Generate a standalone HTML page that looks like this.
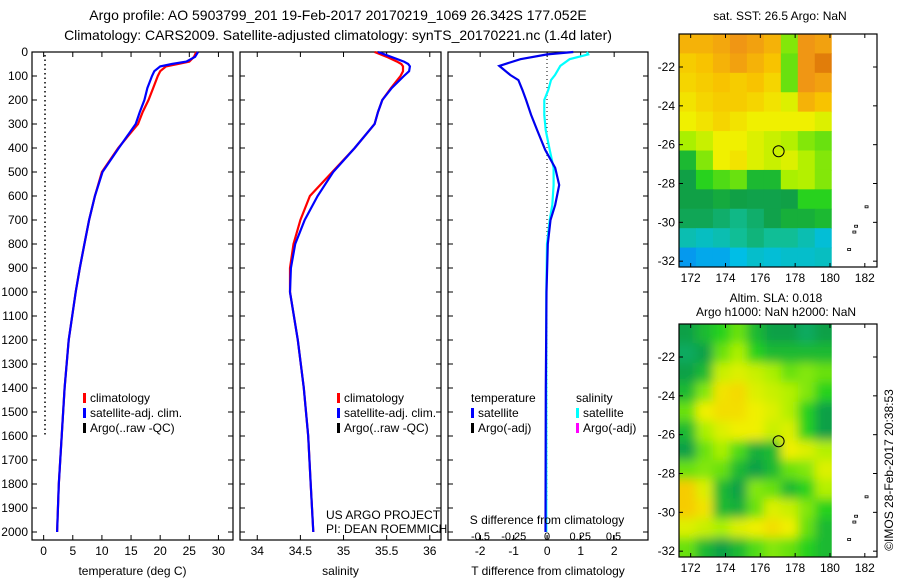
<!DOCTYPE html>
<html><head><meta charset="utf-8">
<style>
html,body{margin:0;padding:0;background:#fff;}
svg{display:block;font-family:"Liberation Sans",sans-serif;}
text{fill:#000;}
</style></head>
<body>
<svg id="fig" width="900" height="580" viewBox="0 0 900 580" xmlns="http://www.w3.org/2000/svg">
<text x="338" y="20" font-size="14" text-anchor="middle">Argo profile: AO 5903799_201 19-Feb-2017 20170219_1069 26.342S 177.052E</text>
<text x="338" y="40" font-size="14" text-anchor="middle">Climatology: CARS2009. Satellite-adjusted climatology: synTS_20170221.nc (1.4d later)</text>
<g id="g1"></g>
<g id="g2"></g>
<g id="g3"></g>
<g id="m1"></g>
<g id="m2"></g>
<text x="326" y="519" font-size="12">US ARGO PROJECT</text>
<text x="326" y="533" font-size="12">PI: DEAN ROEMMICH</text>
<text x="780" y="20" font-size="12" text-anchor="middle">sat. SST: 26.5 Argo: NaN</text>
<text x="776" y="302" font-size="12" text-anchor="middle">Altim. SLA: 0.018</text>
<text x="776" y="316" font-size="12" text-anchor="middle">Argo h1000: NaN h2000: NaN</text>
<text transform="translate(893,470) rotate(-90)" font-size="12" text-anchor="middle">©IMOS 28-Feb-2017 20:38:53</text>
</svg>
<script>
// ---- profile data ----
const depths = [0,20,40,50,60,80,100,150,200,250,300,400,500,600,700,800,900,1000,1200,1400,1600,1800,2000];
const tempClim = [26.2,25.8,25,23,21,20,19.6,18.8,18,17,16.2,12.8,10,8.8,7.8,7,6.2,5.5,4.3,3.6,3.1,2.6,2.3];
const tempSat  = [26.5,26,24.5,22,20,19,18.6,17.8,17.3,16.5,15.8,12.9,10.1,8.8,7.8,7,6.2,5.5,4.3,3.6,3.1,2.6,2.3];
const salClim = [35.36,35.5,35.62,35.67,35.69,35.69,35.66,35.55,35.45,35.4,35.36,35.13,34.87,34.61,34.5,34.42,34.38,34.38,34.47,34.54,34.59,34.62,34.65];
const salSat  = [35.4,35.55,35.7,35.75,35.77,35.76,35.7,35.56,35.45,35.4,35.36,35.13,34.88,34.7,34.55,34.44,34.39,34.38,34.47,34.54,34.59,34.62,34.65];
const diffDepths = [0,10,30,58,96,117,158,200,262,325,408,483,554,637,700,800,1000,1400,2000];
const tDiff = [0.78,0.0,-0.8,-1.43,-1.1,-0.86,-0.74,-0.63,-0.48,-0.3,-0.06,0.24,0.36,0.24,0.1,0.02,-0.02,-0.04,-0.05];
const sDiff = [0.3,0.31,0.17,0.1,0.06,0.03,0.01,-0.02,-0.02,-0.01,0.02,0.05,0.05,0.04,0.02,0.0,-0.005,-0.005,-0.005];
const depthTicks = [0,100,200,300,400,500,600,700,800,900,1000,1100,1200,1300,1400,1500,1600,1700,1800,1900,2000];
const tempTicks = [0,5,10,15,20,25,30];
const salTicks = [34,34.5,35,35.5,36];
const tDiffTicks = [-2,-1,0,1,2];
const sDiffTicks = [-0.5,-0.25,0,0.25,0.5];
const sDiffTickLabels = ["-0.5","-0.25","0","0.25","0.5"];
// ---- map data (values 0..1 on colour scale), 12 rows (lat -20.3..-32.3) x 9 cols (lon 171.3..180.1) ----
const sstGrid = [
[.85,.85,.87,.9,.88,.85,.62,.9,.88],
[.8,.82,.85,.88,.85,.82,.6,.9,.95],
[.78,.8,.82,.8,.82,.78,.6,.9,.88],
[.75,.78,.8,.8,.78,.75,.7,.85,.82],
[.72,.75,.78,.75,.72,.72,.72,.72,.7],
[.65,.68,.72,.72,.7,.68,.66,.62,.6],
[.5,.62,.72,.75,.7,.68,.7,.66,.62],
[.45,.55,.58,.6,.5,.5,.65,.66,.62],
[.45,.45,.47,.45,.44,.44,.45,.55,.55],
[.42,.42,.38,.33,.38,.44,.48,.48,.5],
[.25,.22,.25,.3,.35,.3,.3,.25,.18],
[.1,.12,.12,.15,.2,.18,.2,.2,.22]];
const slaGrid = [
[.45,.5,.55,.6,.5,.45,.45,.4,.45],
[.4,.45,.6,.65,.55,.5,.5,.5,.5],
[.45,.5,.68,.7,.68,.65,.6,.62,.6],
[.5,.62,.75,.77,.7,.68,.66,.62,.55],
[.6,.72,.76,.76,.72,.7,.66,.55,.45],
[.5,.65,.7,.72,.72,.68,.7,.55,.45],
[.45,.6,.65,.58,.48,.5,.72,.7,.66],
[.6,.62,.6,.5,.45,.5,.6,.62,.7],
[.8,.7,.5,.45,.62,.6,.5,.55,.66],
[.8,.75,.5,.48,.6,.7,.68,.62,.55],
[.7,.68,.65,.7,.72,.76,.72,.6,.5],
[.6,.5,.45,.5,.58,.62,.6,.55,.5]];
const lonTicks = [172,174,176,178,180,182];
const latTicks = [-22,-24,-26,-28,-30,-32];
const argoLon = 177.05, argoLat = -26.34;

const NS="http://www.w3.org/2000/svg";
function mk(parent,tag,attrs){const e=document.createElementNS(NS,tag);for(const k in attrs)e.setAttribute(k,attrs[k]);parent.appendChild(e);return e;}
function txt(parent,x,y,s,size,anchor){const e=mk(parent,'text',{x:x,y:y,'font-size':size,'text-anchor':anchor||'middle'});e.textContent=s;return e;}

const TOP=52,BOT=540;
const yD=d=>TOP+d*0.24;

function panel(g,x0,x1,xmin,xmax,xticks,xlabels,xtitle,showDepth){
  const xs=v=>x0+(v-xmin)/(xmax-xmin)*(x1-x0);
  const fr=mk(g,'rect',{x:x0,y:TOP,width:x1-x0,height:BOT-TOP,fill:'none',stroke:'#000','stroke-width':1.2});
  
  
  depthTicks.forEach(d=>{
    mk(g,'line',{x1:x0,x2:x0+5,y1:yD(d),y2:yD(d),stroke:'#000'});
    mk(g,'line',{x1:x1-5,x2:x1,y1:yD(d),y2:yD(d),stroke:'#000'});
    if(showDepth){const t=txt(g,28,yD(d)+4,String(d),12,'end');
      
      }
  });
  xticks.forEach((v,i)=>{
    mk(g,'line',{x1:xs(v),x2:xs(v),y1:BOT,y2:BOT-5,stroke:'#000'});
    mk(g,'line',{x1:xs(v),x2:xs(v),y1:TOP,y2:TOP+5,stroke:'#000'});
    const t=txt(g,xs(v),555,xlabels[i],12);
    
    
  });
  const tt=txt(g,(x0+x1)/2,575,xtitle,12);
  
  
  return xs;
}
function line(g,xs,vals,ds,color,name){
  const pts=vals.map((v,i)=>xs(v).toFixed(1)+','+yD(ds[i]).toFixed(1)).join(' ');
  const p=mk(g,'polyline',{points:pts,fill:'none',stroke:color,'stroke-width':2.2});
  
  
}
function legend(g,x,y,items){
  items.forEach((it,i)=>{
    if(it[1]){mk(g,'rect',{x:x,y:y+i*15-5,width:3,height:10,fill:it[1]});}
    const t=txt(g,x+(it[1]?7:0),y+i*15+4,it[0],12,'start');
    
    
  });
}

// Panel 1
const g1=document.getElementById('g1');
const xT=panel(g1,32,233,-2,32.5,tempTicks,tempTicks.map(String),'temperature (deg C)',true);
mk(g1,'line',{x1:45,x2:45,y1:TOP+3,y2:yD(1600),stroke:'#000','stroke-dasharray':'1.5,3','stroke-width':1.5});
line(g1,xT,tempClim,depths,'#f00','temp-climatology-line');
line(g1,xT,tempSat,depths,'#00f','temp-satellite-line');
legend(g1,83,398,[['climatology','#f00'],['satellite-adj. clim.','#00f'],['Argo(..raw -QC)','#000']]);

// Panel 2
const g2=document.getElementById('g2');
const xS=panel(g2,240,441,33.8,36.13,salTicks,salTicks.map(String),'salinity',false);
line(g2,xS,salClim,depths,'#f00','sal-climatology-line');
line(g2,xS,salSat,depths,'#00f','sal-satellite-line');
legend(g2,337,398,[['climatology','#f00'],['satellite-adj. clim.','#00f'],['Argo(..raw -QC)','#000']]);

// Panel 3
const g3=document.getElementById('g3');
const xTD=panel(g3,448,648,-2.96,3.01,tDiffTicks,tDiffTicks.map(String),'T difference from climatology',false);
const xSD=v=>547+v*133;
mk(g3,'line',{x1:547,x2:547,y1:TOP+3,y2:500,stroke:'#000','stroke-dasharray':'1,3','stroke-width':1});
line(g3,xSD,sDiff,diffDepths,'#0ff','salinity-difference-line');
line(g3,xTD,tDiff,diffDepths,'#00e','temperature-difference-line');
sDiffTicks.forEach((v,i)=>{
  mk(g3,'line',{x1:xSD(v),x2:xSD(v),y1:BOT,y2:BOT-5,stroke:'#000'});
  const t=txt(g3,xSD(v),540,sDiffTickLabels[i],11);
  
  
});
const st=txt(g3,547,524,'S difference from climatology',12);


legend(g3,471,398,[['temperature',null],['satellite','#00f'],['Argo(-adj)','#000']]);
legend(g3,576,398,[['salinity',null],['satellite','#0ff'],['Argo(-adj)','#f0f']]);

// Maps
const stops=[[0,[16,80,255]],[0.15,[0,190,230]],[0.3,[16,190,150]],[0.45,[16,160,70]],[0.55,[40,210,30]],[0.65,[170,240,0]],[0.72,[240,240,0]],[0.82,[248,195,0]],[0.9,[240,150,20]],[1,[210,100,0]]];
function cmap(v){for(let i=1;i<stops.length;i++){if(v<=stops[i][0]){const a=stops[i-1],b=stops[i],f=(v-a[0])/(b[0]-a[0]);return 'rgb('+a[1].map((c,k)=>Math.round(c+(b[1][k]-c)*f)).join(',')+')';}}return 'rgb(210,100,0)';}
function drawMap(g,top,bottom,grid,blur,id){
  const X0=679,X1=877,lonMin=171.33,lonMax=182.7,latTop=-20.3,latBot=-32.3;
  const lx=l=>X0+(l-lonMin)/(lonMax-lonMin)*(X1-X0);
  const ly=l=>top+(latTop-l)/(latTop-latBot)*(bottom-top);
  const rows=grid.length,cols=grid[0].length,lonEnd=180.1;
  const cw=(lx(lonEnd)-X0)/cols,rh=(bottom-top)/rows;
  const defs=mk(g,'defs',{});
  const cp=mk(defs,'clipPath',{id:'c'+id});mk(cp,'rect',{x:X0,y:top,width:lx(lonEnd)-X0,height:bottom-top});
  if(blur){const f=mk(defs,'filter',{id:'f'+id,x:'-10%',y:'-10%',width:'120%',height:'120%'});mk(f,'feGaussianBlur',{stdDeviation:5});}
  const cells=mk(g,'g',{'clip-path':'url(#c'+id+')'});
  const inner=mk(cells,'g',blur?{filter:'url(#f'+id+')'}:{});
  for(let r=0;r<rows;r++)for(let c=0;c<cols;c++){
    const ex=blur?(c==0?-15:0):0, ew=blur?((c==cols-1?15:0)-ex):0;
    const ey=blur?(r==0?-15:0):0, eh=blur?((r==rows-1?15:0)-ey):0;
    const cell=mk(inner,'rect',{x:X0+c*cw+ex,y:top+r*rh+ey,width:cw+ew+0.6,height:rh+eh+0.6,fill:cmap(grid[r][c])});
    
    
  }
  const fr=mk(g,'rect',{x:X0,y:top,width:X1-X0,height:bottom-top,fill:'none',stroke:'#000','stroke-width':1.2});
  
  
  lonTicks.forEach(l=>{mk(g,'line',{x1:lx(l),x2:lx(l),y1:top,y2:top+4,stroke:'#000'});mk(g,'line',{x1:lx(l),x2:lx(l),y1:bottom,y2:bottom-4,stroke:'#000'});
    const t=txt(g,lx(l),bottom+15,String(l),12);
    
    });
  latTicks.forEach(l=>{mk(g,'line',{x1:X0,x2:X0+4,y1:ly(l),y2:ly(l),stroke:'#000'});mk(g,'line',{x1:X1-4,x2:X1,y1:ly(l),y2:ly(l),stroke:'#000'});
    const t=txt(g,675,ly(l)+4,String(l),12,'end');
    
    });
  const c=mk(g,'circle',{cx:lx(argoLon),cy:ly(argoLat),r:5.5,fill:'none',stroke:'#000','stroke-width':1});
  
  
  [[182.1,-29.2],[181.5,-30.2],[181.4,-30.5],[181.1,-31.4]].forEach(p=>{
    const s=mk(g,'rect',{x:lx(p[0])-1.5,y:ly(p[1])-1,width:3,height:2,fill:'none',stroke:'#000','stroke-width':0.8});
    
    
  });
}
drawMap(document.getElementById('m1'),34,267,sstGrid,false,1);
drawMap(document.getElementById('m2'),324,557,slaGrid,true,2);
</script>
</body></html>
